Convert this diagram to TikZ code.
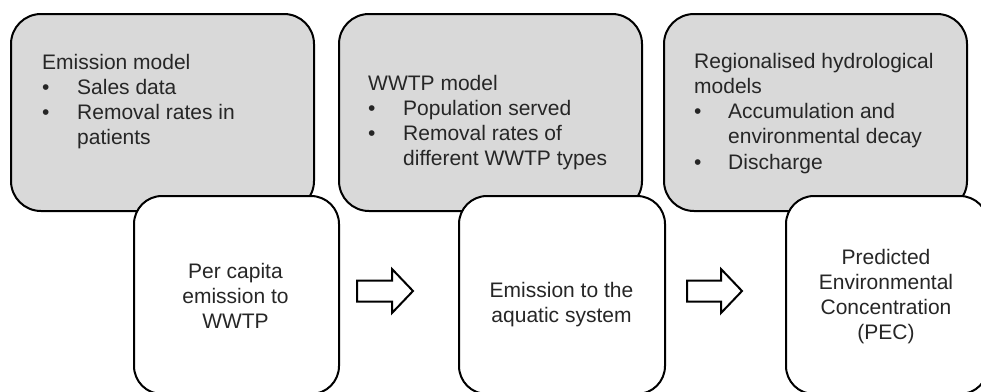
\documentclass[tikz,border=0pt]{standalone}
\usepackage{fontspec}
\setmainfont{Liberation Sans}
\definecolor{boxgray}{RGB}{217,217,217}
\definecolor{txt}{RGB}{38,38,38}
\begin{document}
\begin{tikzpicture}[x=1pt,y=-1pt,
  graybox/.style={draw=black, line width=2pt, fill=boxgray, rounded corners=30pt, anchor=north west, minimum width=303pt, minimum height=197pt, inner sep=0pt},
  whitebox/.style={draw=black, line width=2pt, fill=white, rounded corners=28pt, anchor=north west, minimum height=198pt, inner sep=0pt},
  lbl/.style={inner sep=0pt, text=txt, font=\fontsize{21}{25.3}\selectfont},
  blockarrow/.style={draw=black, line width=2pt, fill=white, line join=miter}]
\useasboundingbox (0,0) rectangle (981,391);
% gray model boxes
\node[graybox] (g1) at (10,13) {};
\node[graybox] (g2) at (338,13) {};
\node[graybox] (g3) at (663,13) {};
% white result boxes
\node[whitebox, minimum width=205pt] (w1) at (133,195) {};
\node[whitebox, minimum width=206pt] (w2) at (458,195) {};
\node[whitebox, minimum width=202pt] (w3) at (785,195) {};
% texts in gray boxes
\node[lbl, anchor=base west] (t1) at (42,69) {\begin{tabular}[t]{@{}p{35pt}@{}l@{}}\multicolumn{2}{@{}l@{}}{Emission model}\\ \textbullet & Sales data\\ \textbullet & Removal rates in\\ & patients\end{tabular}};
\node[lbl, anchor=base west] (t2) at (368,90) {\begin{tabular}[t]{@{}p{35pt}@{}l@{}}\multicolumn{2}{@{}l@{}}{WWTP model}\\ \textbullet & Population served\\ \textbullet & Removal rates of\\ & different WWTP types\end{tabular}};
\node[lbl, anchor=base west] (t3) at (694,68) {\begin{tabular}[t]{@{}p{34pt}@{}l@{}}\multicolumn{2}{@{}l@{}}{Regionalised hydrological}\\ \multicolumn{2}{@{}l@{}}{models}\\ \textbullet & Accumulation and\\ & environmental decay\\ \textbullet & Discharge\end{tabular}};
% texts in white boxes
\node[lbl, anchor=base] (r1) at (235.5,278) {\begin{tabular}[t]{@{}c@{}}Per capita\\ emission to\\ WWTP\end{tabular}};
\node[lbl, anchor=base] (r2) at (561.5,297) {\begin{tabular}[t]{@{}c@{}}Emission to the\\ aquatic system\end{tabular}};
\node[lbl, anchor=base] (r3) at (886,264) {\begin{tabular}[t]{@{}c@{}}Predicted\\ Environmental\\ Concentration\\ (PEC)\end{tabular}};
% block arrows
\draw[blockarrow] (357,280.5) -- (392,280.5) -- (392,269) -- (413,291) -- (392,313) -- (392,301.5) -- (357,301.5) -- cycle;
\draw[blockarrow] (687,280.5) -- (721,280.5) -- (721,269) -- (742,291) -- (721,313) -- (721,301.5) -- (687,301.5) -- cycle;
\end{tikzpicture}
\end{document}
